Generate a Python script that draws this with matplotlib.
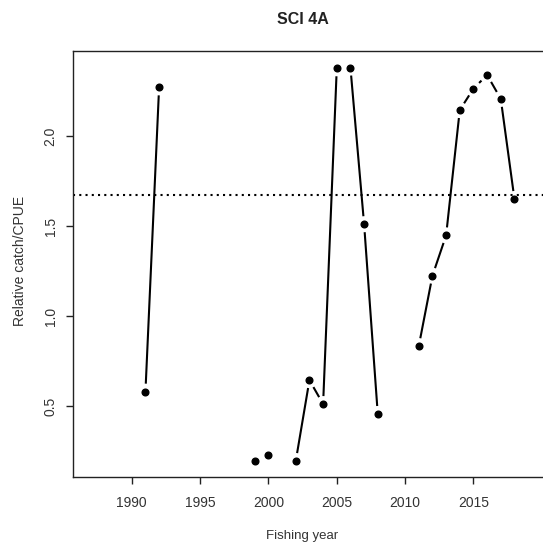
import numpy as np
import matplotlib.pyplot as plt

plt.rcParams['font.family'] = ['Liberation Sans', 'DejaVu Sans']

nan = np.nan
years = list(range(1991, 2019))
cpue = [0.58, 2.27,
        nan, nan, nan, nan, nan, nan,
        0.195, 0.23, nan,
        0.195, 0.644, 0.511, 2.376, 2.38, 1.51, 0.456,
        nan, nan,
        0.833, 1.224, 1.448, 2.144, 2.263, 2.339, 2.206, 1.65]
ref_level = 1.67
xticks = [1990, 1995, 2000, 2005, 2010, 2015]
yticks = [0.5, 1.0, 1.5, 2.0]

W, H = 543, 547
fig = plt.figure(figsize=(W / 100, H / 100), dpi=100)
ax = fig.add_axes([73 / W, 70 / H, (545.6 - 73) / W, (496 - 70) / H])
ax.set_xlim(1985.7, 2020.28)
ax.set_ylim(0.106, 2.472)

# points, with R-style "b" lines: segments stop short of each point
ax.plot(years, cpue, 'o', ms=4.8, color='black', zorder=3)
gap = 8.0
tr = ax.transData
for i in range(len(years) - 1):
    y0, y1 = cpue[i], cpue[i + 1]
    if np.isnan(y0) or np.isnan(y1):
        continue
    p0 = tr.transform((years[i], y0))
    p1 = tr.transform((years[i + 1], y1))
    d = p1 - p0
    L = np.hypot(*d)
    if L <= 2 * gap:
        continue
    u = d / L
    q = tr.inverted().transform([p0 + u * gap, p1 - u * gap])
    ax.plot(q[:, 0], q[:, 1], color='black', lw=1.5, solid_capstyle='butt')

ax.axhline(ref_level, color='black', lw=1.5, linestyle=(0, (1, 2)))

ax.set_xticks(xticks)
ax.set_yticks(yticks)
ax.set_yticklabels(['0.5', '1.0', '1.5', '2.0'], rotation=90, va='center')
ax.tick_params(direction='out', length=5, width=1, colors='#222222',
               labelsize=10, labelcolor='#333333')
ax.tick_params(axis='x', pad=9)
ax.tick_params(axis='y', pad=6)
for s in ax.spines.values():
    s.set_linewidth(1.0)
    s.set_color('#222222')

fig.text(302.5 / W, 1 - 20 / H, 'SCI 4A', ha='center', va='center',
         fontsize=11.5, fontweight='bold', color='#222222')
fig.text(302.5 / W, 1 - 536 / H, 'Fishing year', ha='center', va='center',
         fontsize=9.5, color='#333333')
fig.text(20 / W, 1 - 261 / H, 'Relative catch/CPUE', ha='center', va='center',
         rotation=90, fontsize=10, color='#333333')

fig.savefig('out.png', dpi=100)
